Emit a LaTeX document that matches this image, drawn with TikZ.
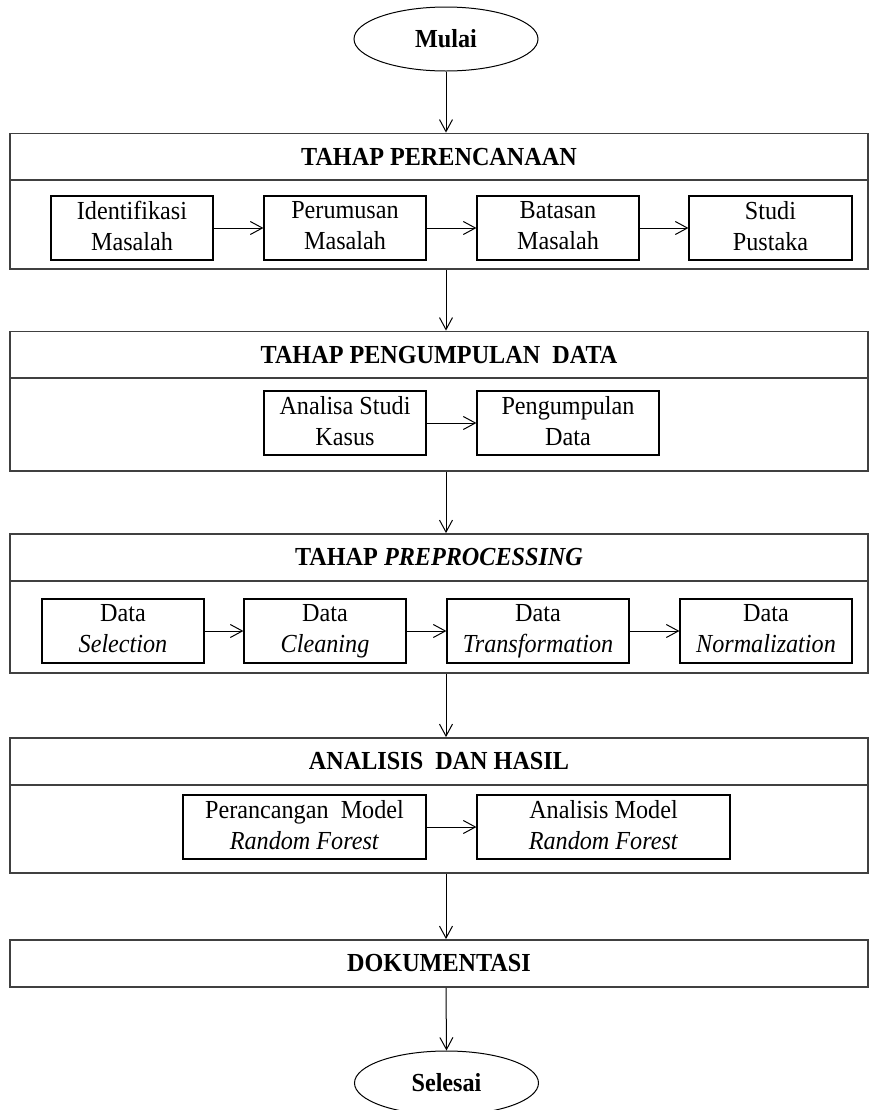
\documentclass[tikz,border=0pt]{standalone}
\usepackage{fontspec}
\setmainfont{Liberation Serif}[FakeStretch=0.93]
\usetikzlibrary{arrows.meta,positioning,shapes.geometric}

\begin{document}
\begin{tikzpicture}[
    x=0.5pt, y=-0.5pt,
    every node/.style={font=\fontsize{13}{15.5}\selectfont},
    terminal/.style={ellipse, draw, line width=0.5pt, minimum width=92pt, minimum height=32pt, inner sep=0pt, font=\fontsize{13}{15.5}\selectfont\bfseries},
    header/.style={draw=black!75, line width=0.9pt, minimum width=429pt, minimum height=23.5pt, inner sep=0pt, font=\fontsize{13}{15.5}\selectfont\bfseries},
    stagebody/.style={draw=black!75, line width=0.9pt, minimum width=429pt, inner sep=0pt},
    process/.style={draw, line width=0.6pt, minimum height=32pt, inner sep=0pt, align=center,
        execute at begin node={\rule{0pt}{12pt}}, execute at end node={\rule[-2.5pt]{0pt}{2.5pt}}},
    flow/.style={-{Straight Barb[length=6pt,width=6.5pt]}, line width=0.5pt}
]
\useasboundingbox (0,0) rectangle (870,1110);
\coordinate (axis) at (446,0);

% Start
\node[terminal] (mulai) at (446,39) {Mulai};

% Stage frames (header band + body)
\node[header] (h1) at (439,157) {TAHAP PERENCANAAN};
\node[stagebody, minimum height=44.5pt] (b1) at (439,224.5) {};
\node[header] (h2) at (439,355) {TAHAP PENGUMPULAN\ \ DATA};
\node[stagebody, minimum height=46.5pt] (b2) at (439,424.5) {};
\node[header] (h3) at (439,557.5) {TAHAP \textit{PREPROCESSING}};
\node[stagebody, minimum height=46pt] (b3) at (439,627) {};
\node[header] (h4) at (439,761.5) {ANALISIS\ \ DAN HASIL};
\node[stagebody, minimum height=44pt] (b4) at (439,829) {};
\node[header] (h5) at (439,963.5) {DOKUMENTASI};

% End
\node[terminal] (selesai) at (446.5,1083) {Selesai};

% Steps inside each stage
\foreach \n/\x/\w/\txt in {
    p1/132/81/Identifikasi\\Masalah,
    p2/345/81/Perumusan\\Masalah,
    p3/558/81/Batasan\\Masalah,
    p4/770.5/81.5/Studi\\Pustaka
} {
    \node[process, minimum width=\w pt] (\n) at (\x,228) {\txt};
}
\foreach \n/\x/\w/\txt in {
    d1/345/81/Analisa Studi\\Kasus,
    d2/568/91/Pengumpulan\\Data
} {
    \node[process, minimum width=\w pt] (\n) at (\x,423) {\txt};
}
\foreach \n/\x/\w/\txt in {
    r1/123/81/Data\\\textit{Selection},
    r2/325/81/Data\\\textit{Cleaning},
    r3/538/91/Data\\\textit{Transformation},
    r4/766/86/Data\\\textit{Normalization}
} {
    \node[process, minimum width=\w pt] (\n) at (\x,631) {\txt};
}
\foreach \n/\x/\w/\txt in {
    a1/304.5/121.5/Perancangan\ \ Model\\\textit{Random Forest},
    a2/603.5/126.5/Analisis Model\\\textit{Random Forest}
} {
    \node[process, minimum width=\w pt] (\n) at (\x,827) {\txt};
}

% Arrows between steps
\foreach \a/\b in {p1/p2,p2/p3,p3/p4,d1/d2,r1/r2,r2/r3,r3/r4,a1/a2}
    \draw[flow] (\a.east) -- (\b.west);

% Main flow
\draw[flow] (mulai.south) -- (h1.north -| axis);
\draw[flow] (b1.south -| axis) -- (h2.north -| axis);
\draw[flow] (b2.south -| axis) -- (h3.north -| axis);
\draw[flow] (b3.south -| axis) -- (h4.north -| axis);
\draw[flow] (b4.south -| axis) -- (h5.north -| axis);
\draw[flow] (h5.south -| axis) -- (selesai.north);
\end{tikzpicture}
\end{document}
